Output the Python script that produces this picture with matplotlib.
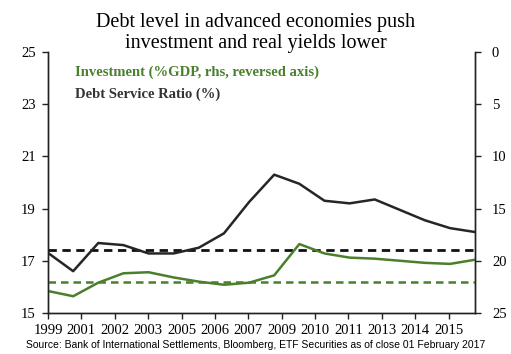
import matplotlib
matplotlib.use("Agg")
from matplotlib import pyplot as plt
import numpy as np

# data (one point per period, 18 periods)
debt_service = [17.3, 16.6, 17.68, 17.6, 17.28, 17.28, 17.5, 18.05, 19.25, 20.3,
                19.95, 19.3, 19.2, 19.35, 18.95, 18.55, 18.25, 18.1]
investment = [22.9, 23.4, 22.1, 21.2, 21.1, 21.6, 22.0, 22.3, 22.1, 21.4,
              18.4, 19.3, 19.7, 19.8, 20.0, 20.2, 20.3, 19.9]
debt_avg = 17.4
invest_avg = 22.05
tick_labels = ["1999", "2001", "2002", "2003", "2005", "2006", "2007", "2009",
               "2010", "2011", "2013", "2014", "2015"]

green = "#4a7f2c"
dark = "#262626"
serif = ["Liberation Serif", "DejaVu Serif"]

fig = plt.figure(figsize=(5.11, 3.54), dpi=100)
ax = fig.add_axes([0.094, 0.116, 0.836, 0.737])
ax2 = ax.twinx()

x = np.arange(len(debt_service))
ax.plot(x, debt_service, color=dark, lw=1.8, zorder=3)
ax.axhline(debt_avg, color="#111111", lw=2, ls=(0, (3, 2)))
ax2.plot(x, investment, color=green, lw=1.8)
ax2.axhline(invest_avg, color=green, lw=1.8, ls=(0, (3, 2)))

ax.set_xlim(0, 17)
ax.set_ylim(15, 25)
ax.set_yticks([15, 17, 19, 21, 23, 25])
ax2.set_ylim(25, 0)
ax2.set_yticks([0, 5, 10, 15, 20, 25])

step = 17 / 12.8
ax.set_xticks(np.arange(len(tick_labels)) * step)
ax.set_xticklabels(tick_labels)

for a in (ax, ax2):
    a.spines["top"].set_visible(False)
    for s in a.spines.values():
        s.set_color("#222222")
        s.set_linewidth(1)
    a.tick_params(length=4, width=1, color="#222222", labelsize=10.5, pad=4)
    for lab in a.get_yticklabels() + a.get_xticklabels():
        lab.set_fontfamily(serif)
ax.tick_params(axis="y", pad=5)
ax2.tick_params(axis="y", pad=8)

fig.text(0.5, 0.963, "Debt level in advanced economies push\ninvestment and real yields lower",
         ha="center", va="top", fontsize=14.5, family=serif, linespacing=1.12)
fig.text(0.147, 0.795, "Investment (%GDP, rhs, reversed axis)", color=green,
         fontsize=10.5, fontweight="bold", family=serif, va="center")
fig.text(0.147, 0.735, "Debt Service Ratio (%)", color="#333333",
         fontsize=10.5, fontweight="bold", family=serif, va="center")
fig.text(0.5, 0.025, "Source: Bank of International Settlements, Bloomberg, ETF Securities as of close 01 February 2017",
         ha="center", va="center", fontsize=7.5, family=["Liberation Sans", "DejaVu Sans"])

fig.savefig("out.png", dpi=100)
